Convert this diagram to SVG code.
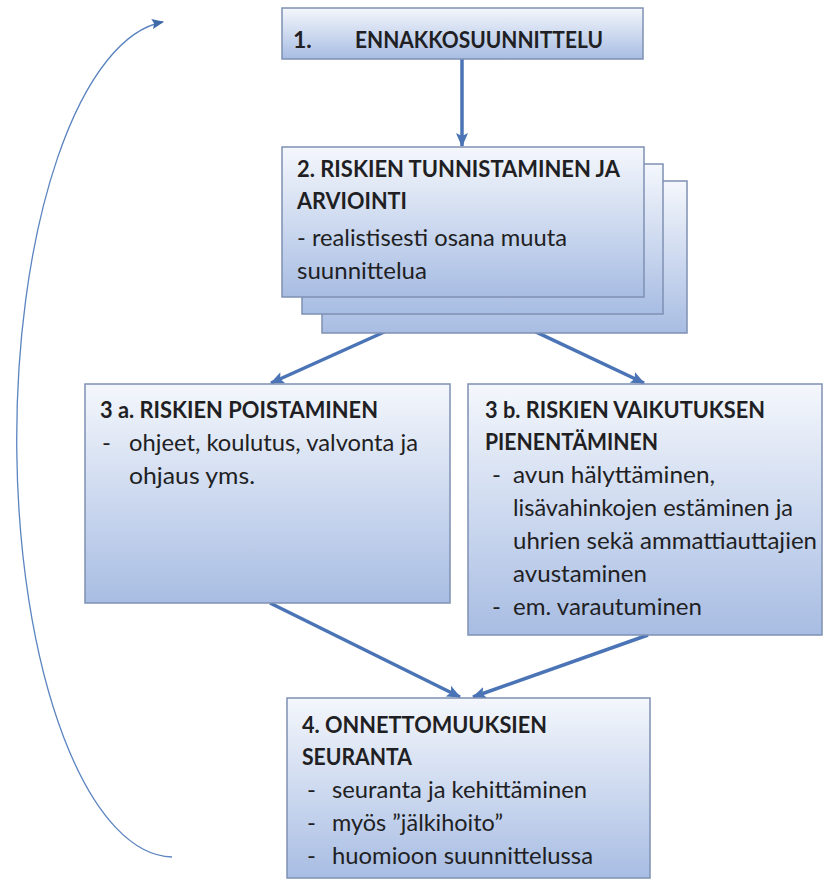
<svg xmlns="http://www.w3.org/2000/svg" width="825" height="883" viewBox="0 0 825 883">
<defs>
<linearGradient id="g" x1="0" y1="0" x2="0" y2="1">
<stop offset="0" stop-color="#f4f7fc"/>
<stop offset="1" stop-color="#a8bde3"/>
</linearGradient>
<marker id="ah" markerUnits="userSpaceOnUse" markerWidth="14" markerHeight="14" viewBox="0 0 14 14" refX="13" refY="7" orient="auto">
<path d="M0,1 L14,7 L0,13 L3,7 Z" fill="#4a74b6"/>
</marker>
<marker id="ahs" markerUnits="userSpaceOnUse" markerWidth="12" markerHeight="12" viewBox="0 0 12 12" refX="11" refY="6" orient="auto">
<path d="M0,1 L12,6 L0,11 L2,6 Z" fill="#3f6aa8"/>
</marker>
<style>
.box{fill:url(#g);stroke:#7f90b3;stroke-width:1.5}
.t{font-family:Lato,"Liberation Sans",sans-serif;font-size:24px;fill:#1f1f24}
.b{font-weight:bold;font-size:23px}
.c{stroke:#4a74b6;stroke-width:3.5;fill:none;marker-end:url(#ah)}
.cv{stroke:#5b84c0;stroke-width:1.3;fill:none;marker-end:url(#ahs)}
</style>
</defs>
<g id="connectors">
<line class="c" x1="462" y1="59" x2="462" y2="146"/>
<line class="c" x1="462" y1="297" x2="271" y2="383"/>
<line class="c" x1="462" y1="297" x2="644" y2="383"/>
<line class="c" x1="270" y1="603" x2="460" y2="697"/>
<line class="c" x1="648" y1="635" x2="473" y2="697"/>
<path class="cv" d="M172,857 A157,418 0 0 1 163,22"/>
</g>
<g id="n1">
<rect class="box" x="282" y="8" width="361" height="51"/>
<text class="t b" x="293" y="48">1.</text>
<text class="t b" x="355" y="48" textLength="248" lengthAdjust="spacingAndGlyphs">ENNAKKOSUUNNITTELU</text>
</g>
<g id="n2">
<rect class="box" x="322" y="181" width="365" height="152"/>
<rect class="box" x="302" y="164" width="361" height="150"/>
<rect class="box" x="282" y="147" width="362" height="150"/>
<text class="t b" x="297" y="177" textLength="323" lengthAdjust="spacingAndGlyphs">2. RISKIEN TUNNISTAMINEN JA</text>
<text class="t b" x="297" y="209" textLength="110" lengthAdjust="spacingAndGlyphs">ARVIOINTI</text>
<text class="t" x="297" y="246" textLength="270" lengthAdjust="spacingAndGlyphs">- realistisesti osana muuta</text>
<text class="t" x="297" y="279" textLength="130" lengthAdjust="spacingAndGlyphs">suunnittelua</text>
</g>
<g id="n3a">
<rect class="box" x="85" y="384" width="365" height="219"/>
<text class="t b" x="100" y="418" textLength="278" lengthAdjust="spacingAndGlyphs">3 a. RISKIEN POISTAMINEN</text>
<text class="t" x="102" y="451">-</text>
<text class="t" x="129" y="451" textLength="289" lengthAdjust="spacingAndGlyphs">ohjeet, koulutus, valvonta ja</text>
<text class="t" x="129" y="484" textLength="126" lengthAdjust="spacingAndGlyphs">ohjaus yms.</text>
</g>
<g id="n3b">
<rect class="box" x="468" y="384" width="354" height="251"/>
<text class="t b" x="485" y="418" textLength="280" lengthAdjust="spacingAndGlyphs">3 b. RISKIEN VAIKUTUKSEN</text>
<text class="t b" x="485" y="450" textLength="173" lengthAdjust="spacingAndGlyphs">PIENENTÄMINEN</text>
<text class="t" x="492" y="483">-</text>
<text class="t" x="513" y="483" textLength="202" lengthAdjust="spacingAndGlyphs">avun hälyttäminen,</text>
<text class="t" x="513" y="516" textLength="280" lengthAdjust="spacingAndGlyphs">lisävahinkojen estäminen ja</text>
<text class="t" x="513" y="549" textLength="304" lengthAdjust="spacingAndGlyphs">uhrien sekä ammattiauttajien</text>
<text class="t" x="513" y="582" textLength="134" lengthAdjust="spacingAndGlyphs">avustaminen</text>
<text class="t" x="492" y="615">-</text>
<text class="t" x="513" y="615" textLength="189" lengthAdjust="spacingAndGlyphs">em. varautuminen</text>
</g>
<g id="n4">
<rect class="box" x="287" y="698" width="363" height="180"/>
<text class="t b" x="302" y="733" textLength="245" lengthAdjust="spacingAndGlyphs">4. ONNETTOMUUKSIEN</text>
<text class="t b" x="302" y="765" textLength="110" lengthAdjust="spacingAndGlyphs">SEURANTA</text>
<text class="t" x="307" y="798">-</text>
<text class="t" x="332" y="798" textLength="255" lengthAdjust="spacingAndGlyphs">seuranta ja kehittäminen</text>
<text class="t" x="307" y="831">-</text>
<text class="t" x="332" y="831" textLength="171" lengthAdjust="spacingAndGlyphs">myös ”jälkihoito”</text>
<text class="t" x="307" y="864">-</text>
<text class="t" x="332" y="864" textLength="261" lengthAdjust="spacingAndGlyphs">huomioon suunnittelussa</text>
</g>
</svg>
